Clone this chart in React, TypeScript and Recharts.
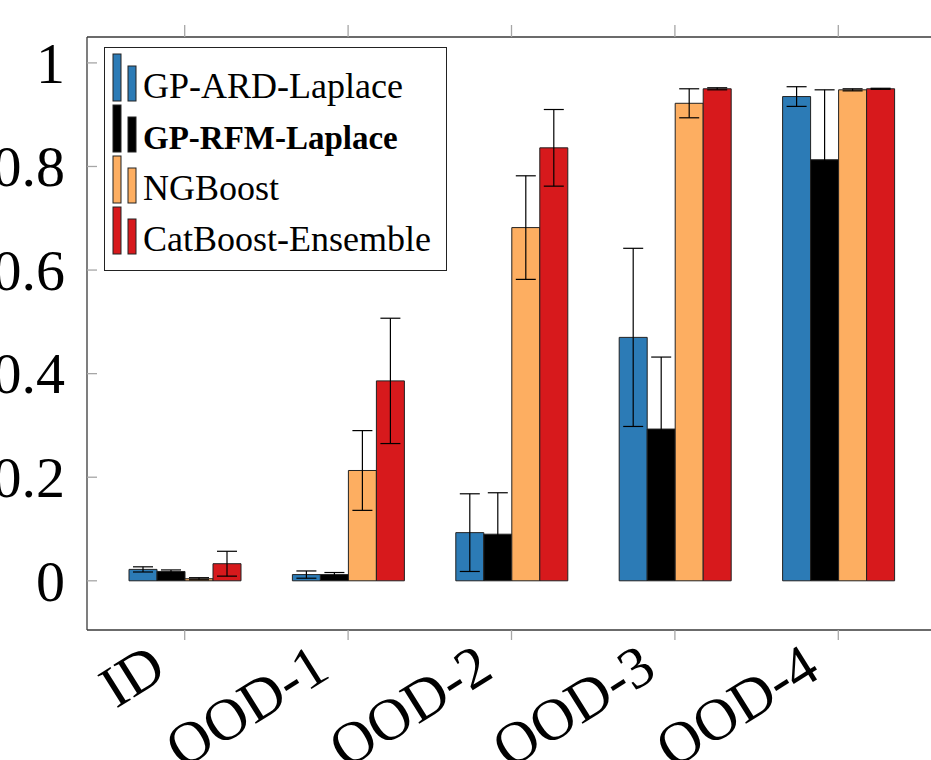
import React from 'react';
import { BarChart, Bar, XAxis, YAxis, ErrorBar } from 'recharts';

// categories along the x axis
const categories = ['ID', 'OOD-1', 'OOD-2', 'OOD-3', 'OOD-4'];

// mean values per method
const ardMean = [0.022, 0.012, 0.093, 0.47, 0.935];
const rfmMean = [0.018, 0.012, 0.09, 0.293, 0.813];
const ngMean = [0.004, 0.213, 0.682, 0.922, 0.948];
const catMean = [0.033, 0.386, 0.836, 0.95, 0.95];

// error (half-width) per method
const ardErr = [0.005, 0.007, 0.075, 0.172, 0.019];
const rfmErr = [0.003, 0.004, 0.08, 0.139, 0.135];
const ngErr = [0.002, 0.077, 0.1, 0.028, 0.002];
const catErr = [0.024, 0.121, 0.074, 0.002, 0.001];

const yTicks = [0, 0.2, 0.4, 0.6, 0.8, 1];

const series = [
  { key: 'ard', name: 'GP-ARD-Laplace', color: '#2c7bb6', bold: false },
  { key: 'rfm', name: 'GP-RFM-Laplace', color: '#000000', bold: true },
  { key: 'ng', name: 'NGBoost', color: '#fdae61', bold: false },
  { key: 'cat', name: 'CatBoost-Ensemble', color: '#d7191c', bold: false },
];

const data = categories.map((cat, i) => ({
  cat,
  ard: ardMean[i],
  ardErr: ardErr[i],
  rfm: rfmMean[i],
  rfmErr: rfmErr[i],
  ng: ngMean[i],
  ngErr: ngErr[i],
  cat_: catMean[i],
  catErr: catErr[i],
}));

const SERIF = '"Liberation Serif", "DejaVu Serif", serif';
const TICK_GRAY = '#a6a6a6';
const FRAME = '#3a3a3a';

const LeftTick = ({ x, y, payload }: any) => (
  <g>
    <line x1={x} x2={x + 10} y1={y} y2={y} stroke={TICK_GRAY} strokeWidth={1.3} />
    <text x={x - 22} y={y} dy="0.34em" textAnchor="end" fontSize={58} fontFamily={SERIF} fill="#000">
      {String(payload.value)}
    </text>
  </g>
);

const RightTick = ({ x, y }: any) => (
  <line x1={x - 10} x2={x} y1={y} y2={y} stroke={TICK_GRAY} strokeWidth={1.3} />
);

const TopTick = ({ x, y }: any) => (
  <line x1={x} x2={x} y1={y - 12} y2={y} stroke={TICK_GRAY} strokeWidth={1.3} />
);

const BottomTick = ({ x, y, payload }: any) => (
  <g>
    <line x1={x} x2={x} y1={y} y2={y + 10} stroke={TICK_GRAY} strokeWidth={1.3} />
    <text
      transform={`translate(${x - 16},${y + 46}) rotate(-32)`}
      textAnchor="end"
      fontSize={59}
      fontFamily={SERIF}
      fill="#000"
    >
      {payload.value}
    </text>
  </g>
);

const LegendBox = () => (
  <svg width={343} height={224} style={{ position: 'absolute', left: 104, top: 47 }}>
    <rect x={0.5} y={0.5} width={342} height={223} fill="#fff" stroke="#222" strokeWidth={1} />
    {series.map((s, i) => (
      <g key={s.key}>
        <rect x={9} y={7 + 51 * i} width={8} height={47} fill={s.color} stroke="#222" strokeWidth={1} />
        <rect x={24} y={19 + 51 * i} width={8} height={35} fill={s.color} stroke="#222" strokeWidth={1} />
        <text
          x={39}
          y={51 + 51 * i}
          fontSize={s.bold ? 33 : 36}
          fontFamily={SERIF}
          fontWeight={s.bold ? 'bold' : 'normal'}
          fill="#000"
        >
          {s.name}
        </text>
      </g>
    ))}
  </svg>
);

export default function App() {
  return (
    <div
      style={{
        position: 'absolute',
        left: 0,
        top: 0,
        width: 931,
        height: 760,
        overflow: 'hidden',
        background: '#fff',
      }}
    >
      <BarChart
        width={960}
        height={760}
        data={data}
        margin={{ top: 0, right: 0, bottom: 0, left: 0 }}
        barSize={28}
        barGap={0}
      >
        <XAxis
          dataKey="cat"
          height={130}
          padding={{ left: 16, right: 17 }}
          axisLine={{ stroke: FRAME, strokeWidth: 1.3 }}
          tickLine={false}
          tickSize={0}
          tickMargin={0}
          interval={0}
          tick={<BottomTick />}
        />
        <XAxis
          xAxisId="top"
          orientation="top"
          dataKey="cat"
          height={37}
          padding={{ left: 16, right: 17 }}
          axisLine={{ stroke: FRAME, strokeWidth: 1.3 }}
          tickLine={false}
          tickSize={0}
          tickMargin={0}
          interval={0}
          tick={<TopTick />}
        />
        <YAxis
          type="number"
          width={87}
          domain={[-0.095, 1.05]}
          ticks={yTicks}
          interval={0}
          axisLine={{ stroke: FRAME, strokeWidth: 1.3 }}
          tickLine={false}
          tickSize={0}
          tickMargin={0}
          tick={<LeftTick />}
        />
        <YAxis
          yAxisId="right"
          orientation="right"
          type="number"
          width={23}
          domain={[-0.095, 1.05]}
          ticks={yTicks}
          interval={0}
          axisLine={{ stroke: FRAME, strokeWidth: 1.3 }}
          tickLine={false}
          tickSize={0}
          tickMargin={0}
          tick={<RightTick />}
        />
        {series.map((s) => {
          const dk = s.key === 'cat' ? 'cat_' : s.key;
          return (
            <Bar
              key={s.key}
              dataKey={dk}
              name={s.name}
              fill={s.color}
              stroke="#222"
              strokeWidth={1}
              isAnimationActive={false}
            >
              <ErrorBar dataKey={s.key + 'Err'} width={10} stroke="#000" strokeWidth={1.2} direction="y" />
            </Bar>
          );
        })}
      </BarChart>
      <LegendBox />
    </div>
  );
}
